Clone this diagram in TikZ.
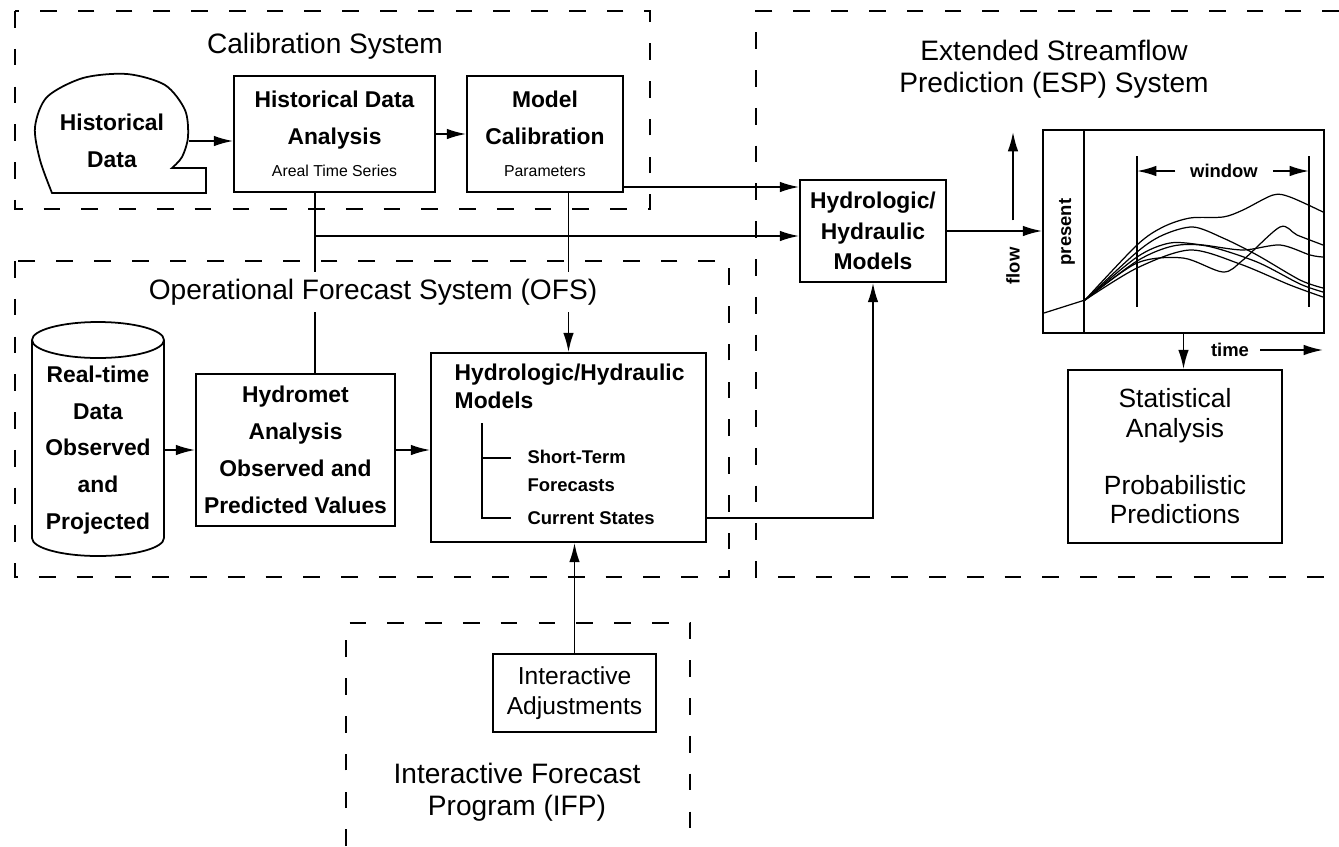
\documentclass[tikz,border=0pt]{standalone}
\usepackage{fontspec}
\setmainfont{Liberation Sans}
\usetikzlibrary{arrows.meta}

\begin{document}
\begin{tikzpicture}[x=0.02cm, y=-0.02cm, line width=1pt, >={Latex[length=11pt,width=6pt]},
    txt/.style={align=center, font=\fontsize{13}{21}\selectfont\bfseries},
    box/.style={txt, draw},
    small/.style={font=\fontsize{10.5}{15.5}\selectfont\bfseries, inner sep=1pt},
    group/.style={dash pattern=on 9.5pt off 12pt},
    title/.style={align=center, font=\fontsize{16}{18}\selectfont}]
    \useasboundingbox (0,0) rectangle (1339,846);
    \draw[group] (15,11) rectangle (650,209);
    \draw[group] (15,261) rectangle (729,577);
    \draw[group] (1339,11) -- (756,11) -- (756,577) -- (1339,577);
    \draw[group] (346,846) -- (346,623) -- (690,623) -- (690,846);

    \draw plot[smooth] coordinates {(172,168) (182,157) (188,137) (185,110) (165,85) (127,74)
      (83,78) (47,97) (35,127) (40,160) (52,193)} -- (206,193) -- (206,168) -- cycle;
    \node[txt, minimum width=3.04cm, inner sep=0pt] (hist) at (112,141) {Historical\\Data};
    \node[box, minimum width=4.02cm, minimum height=2.32cm] (hda) at (334.5,134)
      {Historical Data\\Analysis\\[-3pt]{\fontsize{9}{11}\selectfont\mdseries Areal Time Series}};
    \node[box, minimum width=3.12cm, minimum height=2.32cm] (mc) at (545,134)
      {Model\\Calibration\\[-3pt]{\fontsize{9}{11}\selectfont\mdseries Parameters}};

    \draw (32,340) -- (32,538) arc[start angle=180, end angle=360, x radius=1.32cm, y radius=0.36cm] -- (164,340);
    \draw (98,340) ellipse[x radius=1.32cm, y radius=0.36cm];
    \node[txt, minimum width=2.64cm, inner sep=0pt] (cyl) at (98,450) {Real-time\\Data\\Observed\\and\\Projected};
    \node[box, minimum width=3.98cm, minimum height=3.04cm, inner sep=2pt] (hyd) at (295.5,450)
      {Hydromet\\Analysis\\Observed and\\Predicted Values};
    \node[box, minimum width=5.5cm, minimum height=3.78cm] (hhofs) at (568.5,447.5) {};
    \node[txt, align=left, anchor=west, font=\fontsize{13}{16}\selectfont\bfseries] (hhtxt) at (448,386)
      {Hydrologic/Hydraulic\\Models};
    \node[small, align=left, anchor=west] (stf) at (525,471) {Short-Term\\Forecasts};
    \node[small, anchor=west] (cur) at (525,518) {Current States};
    \draw (482,423) -- (482,518) -- (511,518);
    \draw (482,458) -- (511,458);

    \node[box, minimum width=2.92cm, minimum height=2.04cm, font=\fontsize{13}{17.5}\selectfont\bfseries]
      (hhesp) at (873,231) {Hydrologic/\\Hydraulic\\Models};
    \node[draw, minimum width=5.62cm, minimum height=4.06cm] (chart) at (1183.5,231.5) {};
    \node[draw, minimum width=4.28cm, minimum height=3.46cm, align=center, font=\fontsize{15}{17}\selectfont]
      (stat) at (1175,456.5) {Statistical\\Analysis\\[15pt]Probabilistic\\Predictions};
    \node[draw, minimum width=3.26cm, minimum height=1.56cm, align=center, font=\fontsize{14}{17}\selectfont]
      (ia) at (574.5,693) {Interactive\\Adjustments};

    \coordinate (now) at (1084,0);
    \draw (chart.north -| now) -- (chart.south -| now);
    \draw (1137,156) -- (1137,307);
    \draw (1309,156) -- (1309,307);
    \node[small, rotate=90] (present) at (1067,232) {present};
    \node[small, rotate=90] (flow) at (1013,266) {flow};
    \coordinate (flowtip) at (1013,132);
    \draw[->, shorten <=14pt] (flow.east) -- (flowtip);
    \node[small, inner sep=8pt] (win) at (1224,171) {window};
    \coordinate (wl) at (1137,171);
    \coordinate (wr) at (1309,171);
    \draw[->] (win.west) -- (wl);
    \draw[->] (win.east) -- (wr);
    \node[small, inner sep=6pt] (time) at (1230,350) {time};
    \coordinate (timetip) at (1323,350);
    \draw[->] (time.east) -- (timetip);
    \begin{scope}[line width=0.7pt]
      \draw (1044,313) -- (1085,300);
      \draw plot[smooth] coordinates {(1085,300) (1137,245) (1163,227) (1190,218) (1223,217) (1243,210) (1273,195) (1290,197) (1323,212)};
      \draw plot[smooth] coordinates {(1085,300) (1137,252) (1163,235) (1193,227) (1223,238) (1257,255) (1300,280) (1323,288)};
      \draw plot[smooth] coordinates {(1085,300) (1137,257) (1170,243) (1203,245) (1243,250) (1280,245) (1310,255) (1323,257)};
      \draw plot[smooth] coordinates {(1085,300) (1137,261) (1173,246) (1207,246) (1257,262) (1300,284) (1323,292)};
      \draw plot[smooth] coordinates {(1085,300) (1137,263) (1183,258) (1223,272) (1243,260) (1280,227) (1297,235) (1323,245)};
      \draw plot[smooth] coordinates {(1085,300) (1137,268) (1190,250) (1240,264) (1290,285) (1323,297)};
    \end{scope}

    \coordinate (cx) at (315,0);
    \coordinate (split) at (315,236);
    \coordinate (calrow) at (0,187);
    \draw[->] (hist.east) -- (hda.west |- hist.east);
    \draw[->] (hda.east) -- (mc.west);
    \draw (hda.south -| cx) -- (hyd.north -| cx);
    \draw[->] (split) -- (hhesp.west |- split);
    \draw[->] (mc.east |- calrow) -- (hhesp.west |- calrow);
    \draw[->] (mc.south -| hhofs.north) -- (hhofs.north);
    \draw[->] (cyl.east) -- (hyd.west);
    \draw[->] (hyd.east) -- (hhofs.west |- hyd.east);
    \draw[->] (hhofs.east |- cur) -| (hhesp.south);
    \draw[->] (ia.north) -- (hhofs.south -| ia.north);
    \draw[->] (hhesp.east) -- (chart.west |- hhesp.east);
    \draw[->] (chart.south) -- (chart.south |- stat.north);

    \node[title] (caltitle) at (325,46) {Calibration System};
    \node[title, fill=white, inner sep=4pt] (ofstitle) at (373,292) {Operational Forecast System (OFS)};
    \node[title] (esptitle) at (1054,69) {Extended Streamflow\\Prediction (ESP) System};
    \node[title] (ifptitle) at (517,792) {Interactive Forecast\\Program (IFP)};
  \end{tikzpicture}
\end{document}
